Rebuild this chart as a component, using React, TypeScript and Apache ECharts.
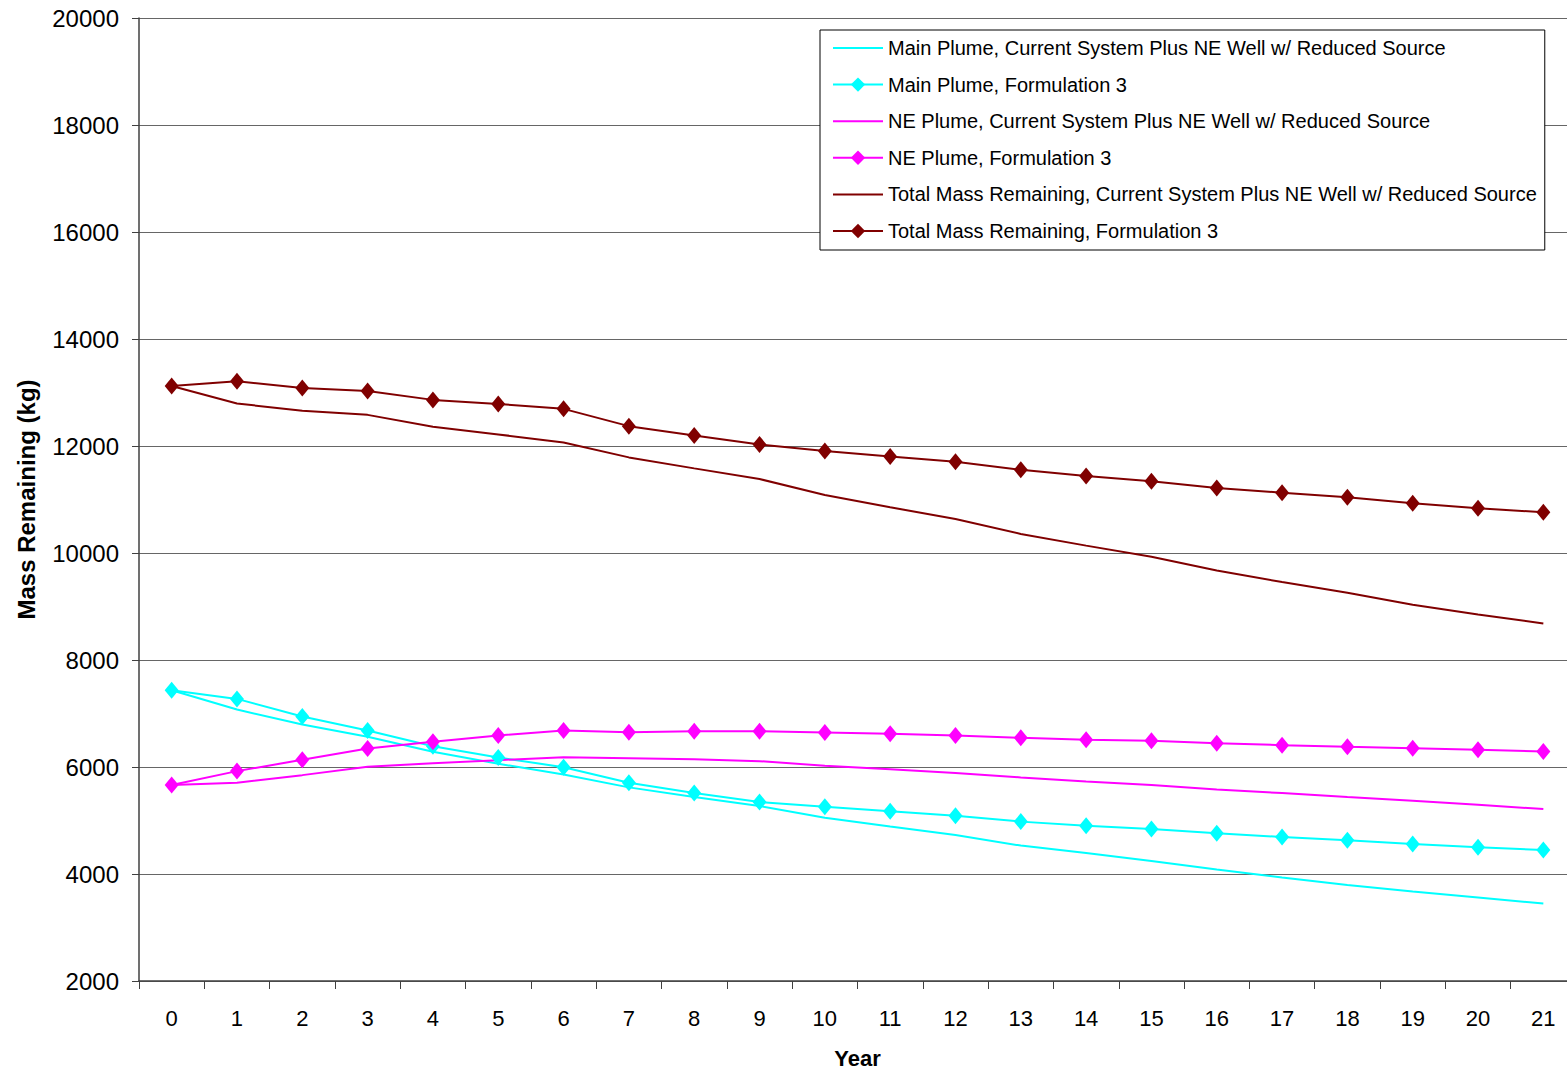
import React, { useEffect, useRef } from "react";
import * as echarts from "echarts";

const years = ["0","1","2","3","4","5","6","7","8","9","10","11","12","13","14","15","16","17","18","19","20","21"];

const mainCurrent = [7434,7074,6794,6564,6285,6061,5861,5619,5438,5270,5053,4886,4729,4531,4393,4244,4084,3934,3796,3673,3561,3449];
const mainF3 = [7434,7273,6943,6682,6389,6178,5997,5706,5512,5345,5259,5171,5091,4979,4904,4841,4761,4692,4630,4561,4500,4449];
const neCurrent = [5662,5706,5848,6005,6072,6128,6184,6165,6146,6109,6023,5960,5886,5805,5731,5662,5581,5512,5438,5371,5296,5214];
const neF3 = [5662,5923,6135,6346,6471,6589,6682,6650,6669,6669,6645,6620,6589,6545,6508,6490,6445,6408,6378,6352,6322,6290];
const totalCurrent = [13123,12795,12657,12582,12358,12216,12067,11787,11582,11383,11084,10855,10636,10357,10138,9930,9672,9456,9256,9032,8851,8683];
const totalF3 = [13123,13211,13086,13030,12862,12787,12694,12371,12197,12030,11905,11806,11705,11556,11438,11339,11215,11127,11041,10929,10836,10761];

const names = [
  "Main Plume, Current System Plus NE Well w/ Reduced Source",
  "Main Plume, Formulation 3",
  "NE Plume, Current System Plus NE Well w/ Reduced Source",
  "NE Plume, Formulation 3",
  "Total Mass Remaining, Current System Plus NE Well w/ Reduced Source",
  "Total Mass Remaining, Formulation 3",
];
const hasMarker = [false, true, false, true, false, true];

const FONT = "'Liberation Sans', Arial, sans-serif";

export default function App() {
  const ref = useRef<HTMLDivElement>(null);
  useEffect(() => {
    if (!ref.current) return;
    const chart = echarts.init(ref.current, null, { renderer: "svg" });
    const mk = (name: string, data: number[], color: string, marker: boolean) => ({
      name,
      type: "line",
      data,
      symbol: marker ? "diamond" : "none",
      symbolSize: marker ? [14, 17] : 0,
      showSymbol: marker,
      lineStyle: { color, width: 2 },
      itemStyle: { color },
      emphasis: { disabled: true },
    });
    chart.setOption({
      animation: false,
      textStyle: { fontFamily: FONT },
      grid: { left: 139, top: 18, width: 1437, height: 965 },
      legend: {
        orient: "vertical",
        left: 820,
        top: 30,
        padding: [8, 8, 9, 12],
        backgroundColor: "#fff",
        borderColor: "#000",
        borderWidth: 1,
        borderRadius: 0,
        itemWidth: 50,
        itemHeight: 18,
        itemGap: 16.6,
        textStyle: { fontSize: 20, color: "#000", fontFamily: FONT },
        data: names.map((n, i) =>
          hasMarker[i] ? { name: n } : { name: n, itemStyle: { opacity: 0 } }
        ),
      },
      xAxis: {
        type: "category",
        data: years,
        boundaryGap: true,
        name: "Year",
        nameLocation: "middle",
        nameGap: 66,
        nameTextStyle: { fontSize: 22, fontWeight: "bold", color: "#000", fontFamily: FONT },
        axisLine: { lineStyle: { color: "#404040", width: 1.5 } },
        axisTick: { show: true, alignWithLabel: false, length: 8, lineStyle: { color: "#404040" } },
        axisLabel: { fontSize: 22, color: "#000", margin: 26, fontFamily: FONT },
        splitLine: { show: false },
      },
      yAxis: {
        type: "value",
        min: 2000,
        max: 20000,
        interval: 2000,
        name: "Mass Remaining (kg)",
        nameLocation: "middle",
        nameGap: 101,
        nameTextStyle: { fontSize: 24, fontWeight: "bold", color: "#000", fontFamily: FONT },
        axisLine: { show: true, lineStyle: { color: "#404040", width: 1.5 } },
        axisTick: { show: true, length: 7, lineStyle: { color: "#404040" } },
        axisLabel: {
          fontSize: 24,
          color: "#000",
          margin: 20,
          fontFamily: FONT,
          formatter: (v: number) => String(v),
        },
        splitLine: { show: true, lineStyle: { color: "#666", width: 1 } },
      },
      series: [
        mk(names[0], mainCurrent, "#00FFFF", false),
        mk(names[1], mainF3, "#00FFFF", true),
        mk(names[2], neCurrent, "#FF00FF", false),
        mk(names[3], neF3, "#FF00FF", true),
        mk(names[4], totalCurrent, "#800000", false),
        mk(names[5], totalF3, "#800000", true),
      ],
    });
    return () => chart.dispose();
  }, []);
  return (
    <div
      style={{ position: "absolute", left: 0, top: 0, width: 1567, height: 1074, overflow: "hidden", background: "#fff" }}
    >
      <div ref={ref} style={{ width: 1580, height: 1074 }} />
    </div>
  );
}
